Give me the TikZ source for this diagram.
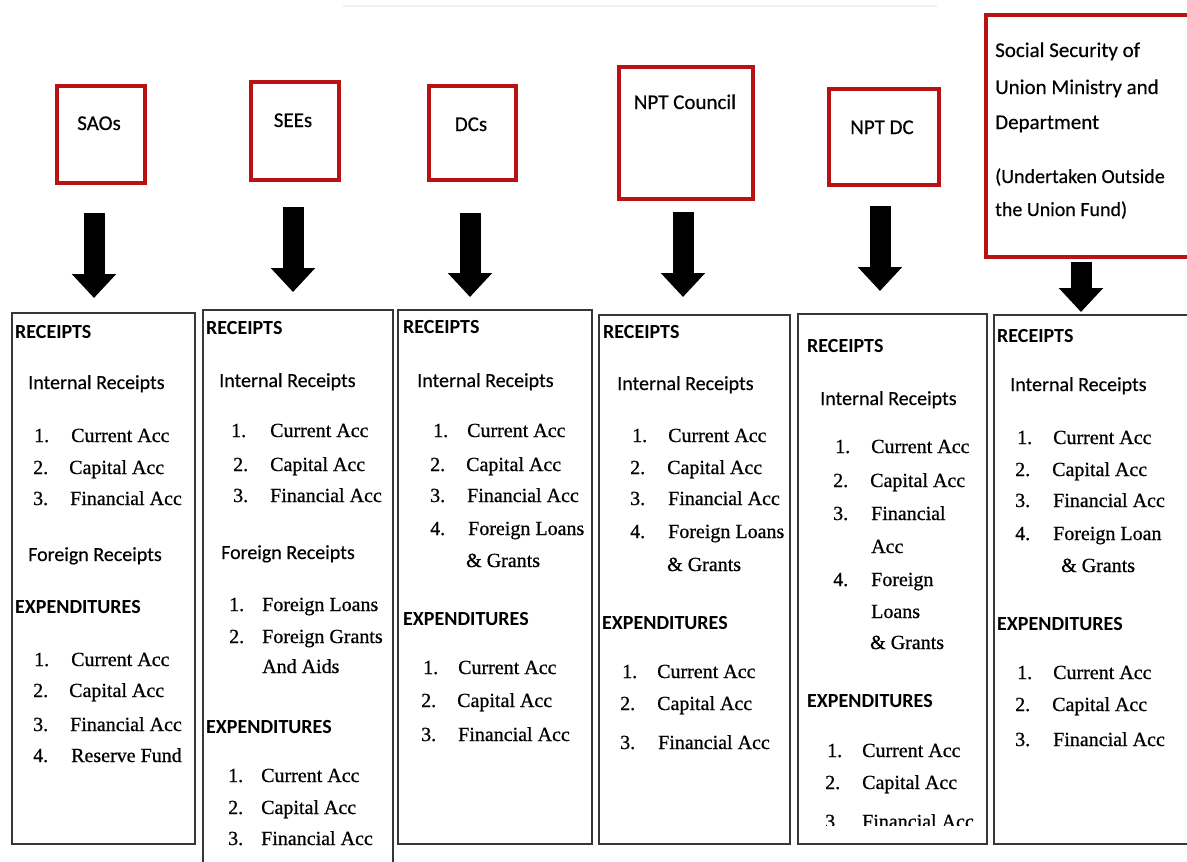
\documentclass[tikz,border=0pt]{standalone}
\usepackage{fontspec}
\setmainfont{Carlito}
\newfontfamily\tms[FakeBold=0.7]{Liberation Serif}
\newfontfamily\calfnt[FakeBold=0.35]{Carlito}
\usetikzlibrary{arrows.meta}
\definecolor{redc}{RGB}{185,18,18}
\definecolor{boxc}{RGB}{55,55,55}
\newcommand{\hdtxt}[3]{\node[hd] (#1) at (#2) {#3};}
\newcommand{\subtxt}[3]{\node[sub] (#1) at (#2) {#3};}
\newcommand{\ptxt}[3]{\node[itm] (#1) at (#2) {#3};}
\newcommand{\litem}[6]{\node[itm] (#1n) at (#2,#4) {#5}; \node[itm] (#1t) at (#3,#4) {#6};}
\begin{document}
\begin{tikzpicture}[x=1pt,y=-1pt,
  redbox/.style={draw=redc, line width=3.8pt, fill=white, inner sep=0pt, anchor=north west},
  obox/.style={draw=boxc, line width=1.9pt, inner sep=0pt, anchor=north west},
  hd/.style={font=\bfseries\fontsize{20}{24}\selectfont, anchor=base west, inner sep=0pt},
  sub/.style={font=\calfnt\fontsize{20}{24}\selectfont, anchor=base west, inner sep=0pt},
  itm/.style={font=\tms\fontsize{20}{24}\selectfont, anchor=base west, inner sep=0pt},
  toplbl/.style={font=\calfnt\fontsize{21}{25}\selectfont, anchor=base, inner sep=0pt},
  sslbl/.style={font=\calfnt\fontsize{21}{25}\selectfont, anchor=base west, inner sep=0pt},
  sssmall/.style={font=\calfnt\fontsize{20}{24}\selectfont, anchor=base west, inner sep=0pt},
  bigarrow/.style={line width=21pt, -{Triangle[width=43pt,length=24pt]}}]
\useasboundingbox[fill=white] (0,0) rectangle (1187,862);
\draw[black!6, line width=2pt] (343,6) -- (937,6);

% top boxes
\node[redbox, minimum width=88pt, minimum height=97pt] (sao) at (55,84) {};
\node[toplbl] (saol) at (99,130) {SAOs};
\node[redbox, minimum width=88pt, minimum height=98pt] (see) at (249,80) {};
\node[toplbl] (seel) at (293,127) {SEEs};
\node[redbox, minimum width=87pt, minimum height=94pt] (dc) at (427,84) {};
\node[toplbl] (dcl) at (471,131) {DCs};
\node[redbox, minimum width=134pt, minimum height=132pt] (nptc) at (617,65) {};
\node[toplbl] (nptcl) at (685,109) {NPT Council};
\node[redbox, minimum width=110pt, minimum height=96pt] (nptd) at (827,87) {};
\node[toplbl] (nptdl) at (882,134) {NPT DC};
\node[redbox, minimum width=230pt, minimum height=242pt] (ss) at (984,13) {};
\node[sslbl] (ss1) at (995,57) {Social Security of};
\node[sslbl] (ss2) at (995,94) {Union Ministry and};
\node[sslbl] (ss3) at (995,129) {Department};
\node[sssmall] (ss4) at (995,183) {(Undertaken Outside};
\node[sssmall] (ss5) at (995,216) {the Union Fund)};

% arrows
\coordinate (a1s) at (94,213);  \coordinate (a1e) at (94,298);
\coordinate (a2s) at (293,207); \coordinate (a2e) at (293,292);
\coordinate (a3s) at (470,213); \coordinate (a3e) at (470,297);
\coordinate (a4s) at (683,212); \coordinate (a4e) at (683,297);
\coordinate (a5s) at (880,206); \coordinate (a5e) at (880,291);
\coordinate (a6s) at (1081,262); \coordinate (a6e) at (1081,312);
\foreach \i in {1,...,6} \draw[bigarrow] (a\i s) -- (a\i e);

% bottom boxes
\node[obox, minimum width=183pt, minimum height=531pt] (b1) at (11,312) {};
\node[obox, minimum width=190pt, minimum height=580pt] (b2) at (202,309) {};
\node[obox, minimum width=194pt, minimum height=534pt] (b3) at (397,309) {};
\node[obox, minimum width=191pt, minimum height=529pt] (b4) at (598,314) {};
\node[obox, minimum width=189pt, minimum height=530pt] (b5) at (797,313) {};
\node[obox, minimum width=220pt, minimum height=529pt] (b6) at (993,314) {};

% box 1
\hdtxt{b1a}{15,338}{RECEIPTS}
\subtxt{b1b}{28,389}{Internal Receipts}
\litem{b1c}{34}{71}{442}{1.}{Current Acc}
\litem{b1d}{33}{69}{474}{2.}{Capital Acc}
\litem{b1e}{33}{70}{505}{3.}{Financial Acc}
\subtxt{b1f}{28,561}{Foreign Receipts}
\hdtxt{b1g}{15,613}{EXPENDITURES}
\litem{b1h}{34}{71}{666}{1.}{Current Acc}
\litem{b1i}{33}{69}{697}{2.}{Capital Acc}
\litem{b1j}{33}{70}{731}{3.}{Financial Acc}
\litem{b1k}{33}{71}{762}{4.}{Reserve Fund}

% box 2
\hdtxt{b2a}{206,334}{RECEIPTS}
\subtxt{b2b}{219,387}{Internal Receipts}
\litem{b2c}{231}{270}{437}{1.}{Current Acc}
\litem{b2d}{233}{270}{471}{2.}{Capital Acc}
\litem{b2e}{233}{270}{502}{3.}{Financial Acc}
\subtxt{b2f}{221,559}{Foreign Receipts}
\litem{b2g}{229}{262}{611}{1.}{Foreign Loans}
\litem{b2h}{229}{262}{643}{2.}{Foreign Grants}
\ptxt{b2i}{262,673}{And Aids}
\hdtxt{b2j}{206,733}{EXPENDITURES}
\litem{b2k}{228}{261}{782}{1.}{Current Acc}
\litem{b2l}{228}{261}{814}{2.}{Capital Acc}
\litem{b2m}{228}{261}{845}{3.}{Financial Acc}

% box 3
\hdtxt{b3a}{403,333}{RECEIPTS}
\subtxt{b3b}{417,387}{Internal Receipts}
\litem{b3c}{433}{467}{437}{1.}{Current Acc}
\litem{b3d}{430}{466}{471}{2.}{Capital Acc}
\litem{b3e}{430}{467}{502}{3.}{Financial Acc}
\litem{b3f}{430}{468}{535}{4.}{Foreign Loans}
\ptxt{b3g}{466,567}{\& Grants}
\hdtxt{b3h}{403,625}{EXPENDITURES}
\litem{b3i}{423}{458}{674}{1.}{Current Acc}
\litem{b3j}{421}{457}{707}{2.}{Capital Acc}
\litem{b3k}{421}{458}{741}{3.}{Financial Acc}

% box 4
\hdtxt{b4a}{603,338}{RECEIPTS}
\subtxt{b4b}{617,390}{Internal Receipts}
\litem{b4c}{632}{668}{442}{1.}{Current Acc}
\litem{b4d}{630}{667}{474}{2.}{Capital Acc}
\litem{b4e}{630}{668}{505}{3.}{Financial Acc}
\litem{b4f}{630}{668}{538}{4.}{Foreign Loans}
\ptxt{b4g}{667,571}{\& Grants}
\hdtxt{b4h}{602,629}{EXPENDITURES}
\litem{b4i}{622}{657}{678}{1.}{Current Acc}
\litem{b4j}{620}{657}{710}{2.}{Capital Acc}
\litem{b4k}{620}{658}{749}{3.}{Financial Acc}

% box 5
\hdtxt{b5a}{807,352}{RECEIPTS}
\subtxt{b5b}{820,405}{Internal Receipts}
\litem{b5c}{835}{871}{453}{1.}{Current Acc}
\litem{b5d}{833}{870}{487}{2.}{Capital Acc}
\litem{b5e}{833}{871}{520}{3.}{Financial}
\ptxt{b5f}{871,553}{Acc}
\litem{b5g}{833}{871}{586}{4.}{Foreign}
\ptxt{b5h}{871,618}{Loans}
\ptxt{b5i}{870,649}{\& Grants}
\hdtxt{b5j}{807,707}{EXPENDITURES}
\litem{b5k}{827}{862}{757}{1.}{Current Acc}
\litem{b5l}{825}{862}{789}{2.}{Capital Acc}
\begin{scope}
\clip (797,313) rectangle (986,825);
\litem{b5m}{825}{862}{828}{3}{Financial Acc}
\end{scope}

% box 6
\hdtxt{b6a}{997,342}{RECEIPTS}
\subtxt{b6b}{1010,391}{Internal Receipts}
\litem{b6c}{1017}{1053}{444}{1.}{Current Acc}
\litem{b6d}{1015}{1052}{476}{2.}{Capital Acc}
\litem{b6e}{1015}{1053}{507}{3.}{Financial Acc}
\litem{b6f}{1015}{1053}{540}{4.}{Foreign Loan}
\ptxt{b6g}{1061,572}{\& Grants}
\hdtxt{b6h}{997,630}{EXPENDITURES}
\litem{b6i}{1017}{1053}{679}{1.}{Current Acc}
\litem{b6j}{1015}{1052}{711}{2.}{Capital Acc}
\litem{b6k}{1015}{1053}{746}{3.}{Financial Acc}
\end{tikzpicture}
\end{document}
